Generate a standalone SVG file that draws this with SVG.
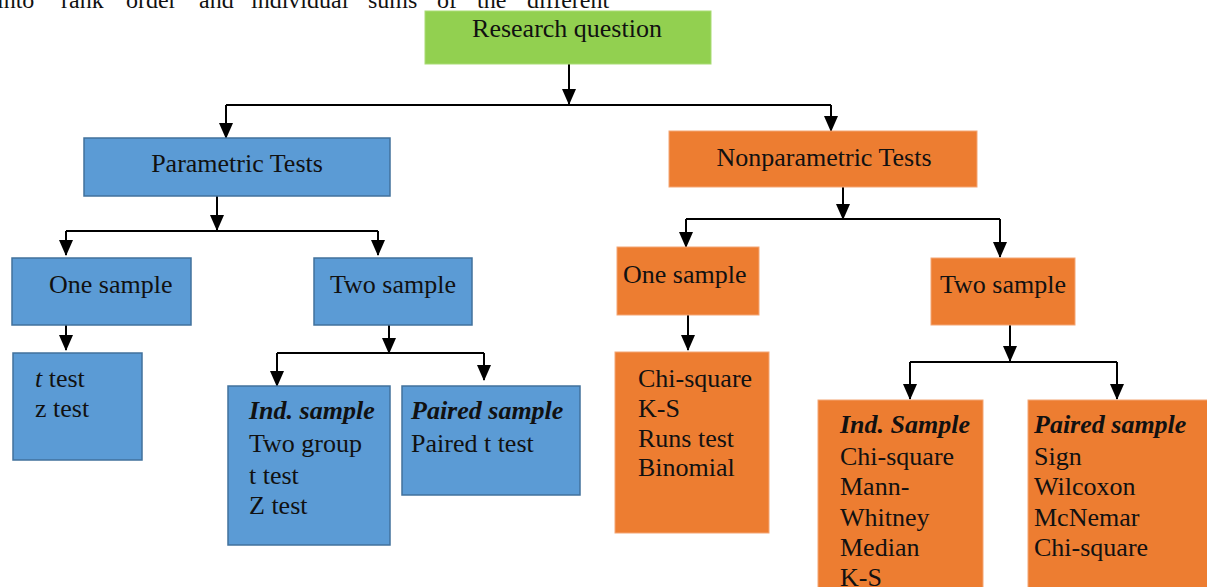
<svg xmlns="http://www.w3.org/2000/svg" width="1207" height="587" viewBox="0 0 1207 587">
<defs>
<marker id="tip" markerUnits="userSpaceOnUse" markerWidth="16" markerHeight="14" refX="15" refY="7" orient="auto" viewBox="0 0 16 14">
<path d="M0,0 L16,7 L0,14 Z" fill="#000"/>
</marker>
<style>
.t{font-family:"Liberation Serif","Times New Roman",serif;font-size:26px;fill:#111}
.bi{font-weight:bold;font-style:italic}
.blue{fill:#5B9BD5;stroke:#41719C;stroke-width:1.5}
.orange{fill:#ED7D31;stroke:#F4A675;stroke-width:1}
.green{fill:#92D050;stroke:#A9DC74;stroke-width:1}
.c{fill:none;stroke:#000;stroke-width:2}
</style>
</defs>
<rect width="1207" height="587" fill="#fff"/>
<g id="intro" class="t" style="font-size:24px">
<text x="-3" y="8">into</text><text x="61" y="8">rank</text><text x="126" y="8">order</text><text x="199" y="8">and</text><text x="251" y="8">individual</text><text x="368" y="8">sums</text><text x="437" y="8">of</text><text x="477" y="8">the</text><text x="527" y="8">different</text>
</g>
<g id="connectors">
<path class="c" d="M569,64 V104" marker-end="url(#tip)"/>
<path class="c" d="M226,105 H831"/>
<path class="c" d="M226,105 V138" marker-end="url(#tip)"/>
<path class="c" d="M831,105 V131" marker-end="url(#tip)"/>
<path class="c" d="M217,196 V230" marker-end="url(#tip)"/>
<path class="c" d="M66,231 H378"/>
<path class="c" d="M66,231 V255" marker-end="url(#tip)"/>
<path class="c" d="M378,231 V255" marker-end="url(#tip)"/>
<path class="c" d="M66,325 V350" marker-end="url(#tip)"/>
<path class="c" d="M389,325 V353" marker-end="url(#tip)"/>
<path class="c" d="M277,353 H484"/>
<path class="c" d="M277,353 V386" marker-end="url(#tip)"/>
<path class="c" d="M484,353 V380" marker-end="url(#tip)"/>
<path class="c" d="M843,187 V219" marker-end="url(#tip)"/>
<path class="c" d="M686,219 H1000"/>
<path class="c" d="M686,219 V247" marker-end="url(#tip)"/>
<path class="c" d="M1000,219 V257" marker-end="url(#tip)"/>
<path class="c" d="M688,315 V350" marker-end="url(#tip)"/>
<path class="c" d="M1010,325 V361" marker-end="url(#tip)"/>
<path class="c" d="M910,362 H1117"/>
<path class="c" d="M910,362 V399" marker-end="url(#tip)"/>
<path class="c" d="M1117,362 V399" marker-end="url(#tip)"/>
</g>
<g id="research"><rect class="green" x="425" y="11" width="286" height="53"/><text class="t" x="567" y="37" text-anchor="middle">Research question</text></g>
<g id="parametric"><rect class="blue" x="84" y="138" width="306" height="58"/><text class="t" x="237" y="172" text-anchor="middle">Parametric Tests</text></g>
<g id="nonparametric"><rect class="orange" x="669" y="131" width="308" height="56"/><text class="t" x="824" y="166" text-anchor="middle">Nonparametric Tests</text></g>
<g id="p-one"><rect class="blue" x="12" y="258" width="179" height="67"/><text class="t" x="49" y="293">One sample</text></g>
<g id="p-two"><rect class="blue" x="314" y="258" width="158" height="67"/><text class="t" x="330" y="293">Two sample</text></g>
<g id="p-one-tests"><rect class="blue" x="13" y="353" width="129" height="107"/><text class="t" x="35" y="387"><tspan font-style="italic">t</tspan> test</text><text class="t" x="35" y="417">z test</text></g>
<g id="p-ind"><rect class="blue" x="228" y="386" width="162" height="159"/><text class="t bi" x="249" y="419">Ind. sample</text><text class="t" x="249" y="452">Two group</text><text class="t" x="249" y="484">t test</text><text class="t" x="249" y="514">Z test</text></g>
<g id="p-paired"><rect class="blue" x="402" y="386" width="178" height="109"/><text class="t bi" x="411" y="419">Paired sample</text><text class="t" x="411" y="452">Paired t test</text></g>
<g id="n-one"><rect class="orange" x="617" y="247" width="142" height="68"/><text class="t" x="623" y="283">One sample</text></g>
<g id="n-two"><rect class="orange" x="931" y="258" width="144" height="67"/><text class="t" x="940" y="293">Two sample</text></g>
<g id="n-one-tests"><rect class="orange" x="615" y="352" width="154" height="181"/><text class="t" x="638" y="387">Chi-square</text><text class="t" x="638" y="417">K-S</text><text class="t" x="638" y="447">Runs test</text><text class="t" x="638" y="476">Binomial</text></g>
<g id="n-ind"><rect class="orange" x="818" y="400" width="165" height="200"/><text class="t bi" x="840" y="433">Ind. Sample</text><text class="t" x="840" y="465">Chi-square</text><text class="t" x="840" y="495">Mann-</text><text class="t" x="840" y="526">Whitney</text><text class="t" x="840" y="556">Median</text><text class="t" x="840" y="586">K-S</text></g>
<g id="n-paired"><rect class="orange" x="1028" y="400" width="190" height="200"/><text class="t bi" x="1034" y="433">Paired sample</text><text class="t" x="1034" y="465">Sign</text><text class="t" x="1034" y="495">Wilcoxon</text><text class="t" x="1034" y="526">McNemar</text><text class="t" x="1034" y="556">Chi-square</text></g>
</svg>
